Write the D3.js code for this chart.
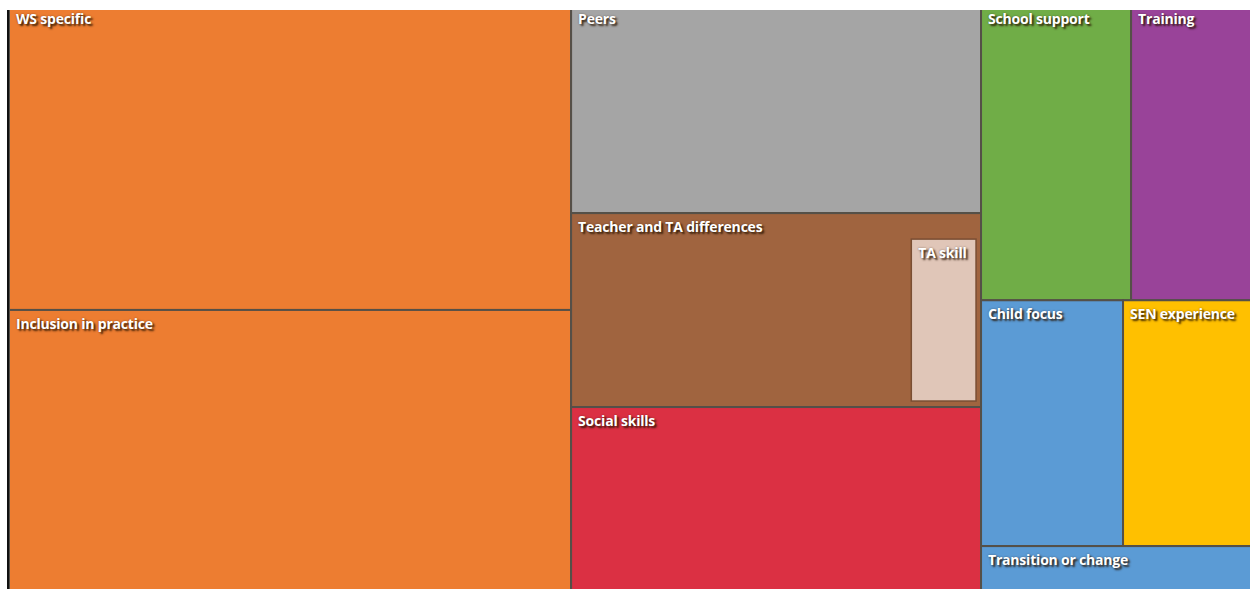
<!DOCTYPE html>
<html>
<head>
<meta charset="utf-8">
<script src="https://cdn.jsdelivr.net/npm/d3@7"></script>
<style>
  html, body { margin: 0; padding: 0; background: #ffffff; }
  svg { display: block; }
  .lbl { font-family: "Open Sans", "Noto Sans", sans-serif; font-weight: 700; font-size: 14px; fill: #ffffff;
         text-shadow: 2px 2px 2px rgba(40,20,0,0.85), 0 0 2px rgba(40,20,0,0.45); letter-spacing: -0.2px; }
</style>
</head>
<body>
<svg id="chart" width="1250" height="589"></svg>
<script>
// ---- data ----
const categories = ["WS specific", "Inclusion in practice", "Peers", "Teacher and TA differences",
                    "Social skills", "School support", "Training", "Child focus", "SEN experience",
                    "Transition or change"];
const values     = [1714, 1574, 853, null, 750, 443, 357, 349, 317, 119];
// sub-items of "Teacher and TA differences"
const teacherSubItems  = ["Teacher and TA differences (other)", "TA skill"];
const teacherSubValues = [666, 129];
const colors = ["#ED7D31", "#ED7D31", "#A5A5A5", "#A0643F", "#DB3043", "#70AD47", "#994399",
                "#5B9BD5", "#FFC000", "#5B9BD5"];
const subColors = ["#A0643F", "#E0C6B8"];

// ---- hierarchy ----
const GROUP = "Teacher and TA differences";
const rootData = {
  name: "root",
  children: categories.map((c, i) => c === GROUP
    ? { name: c, color: colors[i],
        children: teacherSubItems.map((s, j) => ({ name: s, value: teacherSubValues[j], color: subColors[j], hidden: j === 0 })) }
    : { name: c, value: values[i], color: colors[i] })
};

const svg = d3.select("#chart");
const g = svg.append("g").attr("transform", "translate(9,5)");
const root = d3.hierarchy(rootData).sum(d => d.value || 0);

d3.treemap()
  .tile(d3.treemapSquarify)
  .size([1243, 585])
  .paddingTop(d => d.data.name === GROUP ? 26 : 0)
  .paddingLeft(d => d.data.name === GROUP ? 6 : 0)
  .paddingRight(d => d.data.name === GROUP ? 5 : 0)
  .paddingBottom(d => d.data.name === GROUP ? 6 : 0)
  .round(false)(root);

const blocks = root.children;
// top-level blocks
g.selectAll("rect.blk").data(blocks).join("rect")
  .attr("class", "blk")
  .attr("x", d => d.x0).attr("y", d => d.y0)
  .attr("width", d => d.x1 - d.x0).attr("height", d => d.y1 - d.y0)
  .attr("fill", d => d.data.color)
  .attr("stroke", "#555048").attr("stroke-width", 2);

// nested items
const subs = root.descendants().filter(d => d.depth === 2 && !d.data.hidden);
g.selectAll("rect.sub").data(subs).join("rect")
  .attr("class", "sub")
  .attr("x", d => d.x0).attr("y", d => d.y0)
  .attr("width", d => d.x1 - d.x0).attr("height", d => d.y1 - d.y0)
  .attr("fill", d => d.data.color)
  .attr("stroke", "#7a4e33").attr("stroke-width", 1.5);

// cropped top margin and left edge line
svg.append("rect").attr("x", 0).attr("y", 0).attr("width", 1250).attr("height", 10).attr("fill", "#ffffff");
svg.append("rect").attr("x", 7).attr("y", 10).attr("width", 2).attr("height", 579).attr("fill", "#111");

// labels
g.selectAll("text.lbl").data(blocks.concat(subs)).join("text")
  .attr("class", "lbl")
  .attr("x", d => d.x0 + 7)
  .attr("y", d => d.y0 + 19)
  .text(d => d.data.name);
</script>
</body>
</html>
